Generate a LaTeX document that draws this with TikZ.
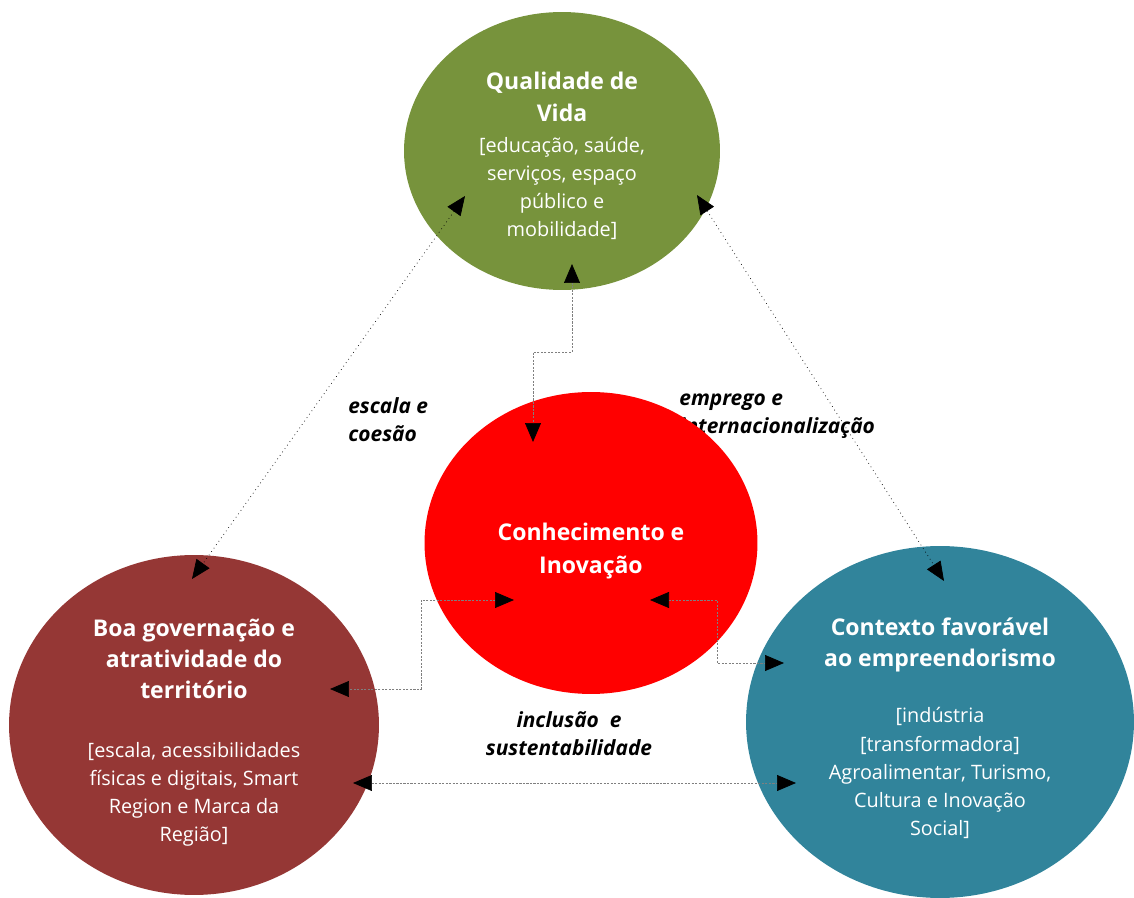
\documentclass[tikz,border=0pt]{standalone}
\usepackage{fontspec}
\setmainfont{Open Sans}
\usetikzlibrary{shapes.geometric,arrows.meta}

\definecolor{vida}{HTML}{77933C}
\definecolor{inova}{HTML}{FF0000}
\definecolor{gov}{HTML}{953735}
\definecolor{contexto}{HTML}{31849B}
\definecolor{linha}{HTML}{7F7F7F}

\tikzset{
  circulo/.style={ellipse, inner sep=0pt},
  texto/.style={text=white, align=center, inner sep=0pt, font=\fontsize{11.3}{16}\selectfont},
  legenda/.style={align=left, inner sep=0pt, font=\fontsize{11.9}{15.9}\selectfont\bfseries\itshape},
  ligacao/.style={thin, dotted, {Triangle[length=0.38cm,width=0.32cm,color=black]}-{Triangle[length=0.38cm,width=0.32cm,color=black]}},
  cotovelo/.style={thin, draw=linha, dash pattern=on 1.2pt off 0.8pt,
    {Triangle[length=0.38cm,width=0.32cm,color=black]}-{Triangle[length=0.38cm,width=0.32cm,color=black]}}
}
\newcommand{\tit}[1]{{\fontsize{13.1}{16}\selectfont\bfseries #1}}

\begin{document}
\begin{tikzpicture}[x=0.02cm,y=-0.02cm]
	\useasboundingbox (0,0) rectangle (1134,898);
	% legendas das ligacoes
	\node[legenda, anchor=west] (l-esc) at (348,420) {escala e\\coesão};
	\node[legenda, anchor=west] (l-emp) at (679,416) {emprego e\\internacionalização};
	\node[legenda, align=center] (l-inc) at (569,734) {inclusão~ e\\sustentabilidade};
	% circulos
	\node[circulo, fill=vida, minimum width=6.32cm, minimum height=5.56cm] (qv) at (562,151) {};
	\node[circulo, fill=inova, minimum width=6.66cm, minimum height=6.04cm] (ci) at (591,543) {};
	\node[circulo, fill=gov, minimum width=7.4cm, minimum height=6.8cm] (bg) at (194,725) {};
	\node[circulo, fill=contexto, minimum width=7.76cm, minimum height=7.04cm] (cf) at (940,722) {};
	% textos
	\node[texto] (qv-t) at (562,156)
		{\tit{Qualidade de}\\[1.8pt]\tit{Vida}\\[1.6pt]{[}educação, saúde,\\serviços, espaço\\público e\\mobilidade{]}};
	\node[texto] (ci-t) at (591,551)
		{\tit{Conhecimento e}\\[2.6pt]\tit{Inovação}};
	\node[texto] (bg-t) at (194,733)
		{\tit{Boa governação e}\\[1.6pt]\tit{atratividade do}\\[1.6pt]\tit{território}\\[17.4pt]
		{[}escala, acessibilidades\\físicas e digitais, Smart\\Region e Marca da\\Região{]}};
	\node[texto] (cf-t) at (940,728)
		{\tit{Contexto favorável}\\[1.8pt]\tit{ao empreendorismo}\\[16.2pt]
		{[}indústria\\{[}transformadora{]}\\Agroalimentar, Turismo,\\Cultura e Inovação\\Social{]}};
	% pontas das ligacoes
	\coordinate (qv-e) at (465,196);
	\coordinate (qv-d) at (697,195);
	\coordinate (qv-s) at (572,264);
	\coordinate (ci-n) at (533,442);
	\coordinate (ci-e) at (514,600);
	\coordinate (ci-d) at (650,600);
	\coordinate (bg-n) at (192,579);
	\coordinate (bg-e) at (330,689);
	\coordinate (bg-s) at (353,783);
	\coordinate (cf-n) at (944,581);
	\coordinate (cf-o) at (784,663);
	\coordinate (cf-s) at (796,783);
	% ligacoes
	\draw[ligacao] (qv-e) -- (bg-n);
	\draw[ligacao] (qv-d) -- (cf-n);
	\draw[cotovelo] (qv-s) -- (572,352) -- (533,352) -- (ci-n);
	\draw[cotovelo] (ci-e) -- (421,600) -- (421,689) -- (bg-e);
	\draw[cotovelo] (ci-d) -- (717,600) -- (717,663) -- (cf-o);
	\draw[cotovelo] (bg-s) -- (cf-s);
\end{tikzpicture}
\end{document}
